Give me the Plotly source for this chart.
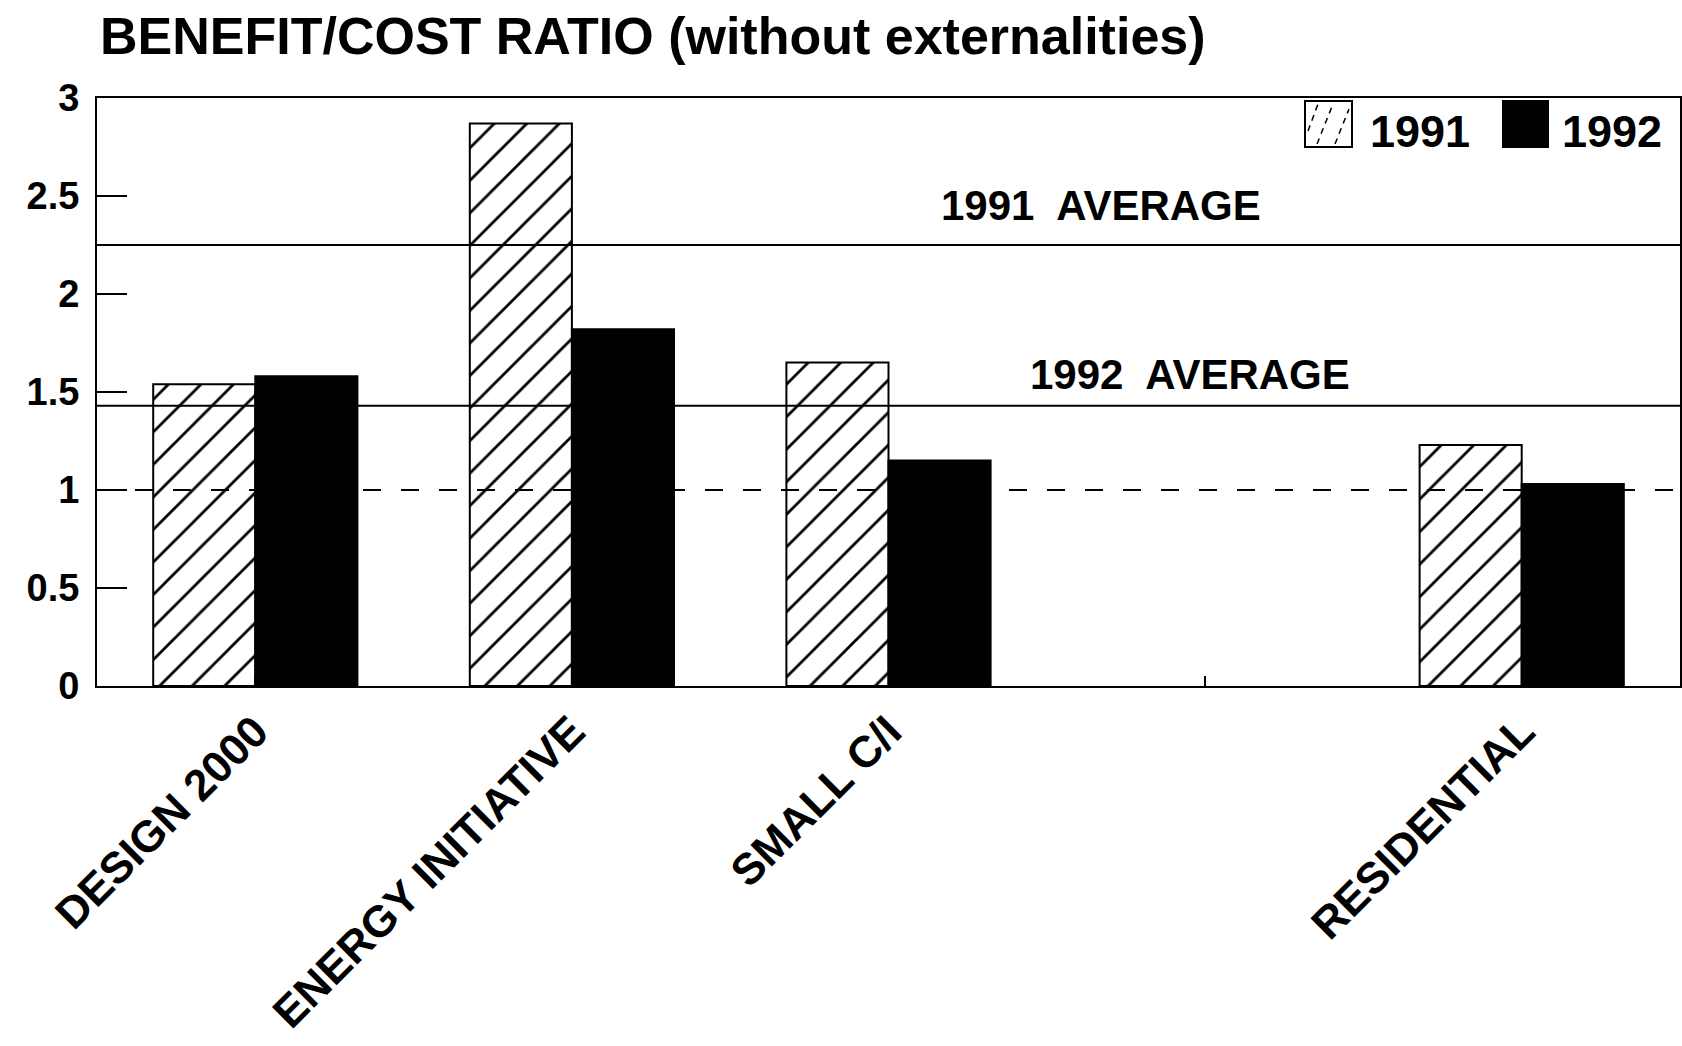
import plotly.graph_objects as go

# Benefit/cost ratios by programme (without externalities)
programs = ["DESIGN 2000", "ENERGY INITIATIVE", "SMALL C/I", "RESIDENTIAL"]
ratio_1991 = [1.54, 2.87, 1.65, 1.23]
ratio_1992 = [1.58, 1.82, 1.15, 1.03]
years = ["1991", "1992"]

# Reference levels
avg_1991 = 2.25
avg_1992 = 1.43
break_even = 1.0

y_ticks = [0, 0.5, 1, 1.5, 2, 2.5, 3]
y_tick_labels = ["0", "0.5", "1", "1.5", "2", "2.5", "3"]

# An empty slot separates the commercial programmes from RESIDENTIAL
SPACER = " "
axis_order = programs[:3] + [SPACER] + programs[3:]

W, H = 1682, 1046
L, R, T, B = 97, 2, 98, 360
FONT = "Liberation Sans, Arial, Helvetica, sans-serif"


def px_x(px):
    return (px - L) / (W - L - R)


def px_y(py):
    return (H - B - py) / (H - T - B)


fig = go.Figure()
fig.add_trace(go.Bar(
    x=programs, y=ratio_1991, name=years[0],
    marker=dict(color="white", line=dict(color="black", width=2),
                pattern=dict(shape="/", fgcolor="black", bgcolor="white",
                             fgopacity=1, fillmode="replace",
                             size=23, solidity=0.12)),
))
fig.add_trace(go.Bar(
    x=programs, y=ratio_1992, name=years[1],
    marker=dict(color="black", line=dict(color="black", width=2)),
))

shapes = []
# Average lines and break-even line
for level, dash in [(avg_1991, "solid"), (avg_1992, "solid"), (break_even, "18px,20px")]:
    shapes.append(dict(type="line", xref="paper", yref="y", x0=0, x1=1,
                       y0=level, y1=level, layer="above",
                       line=dict(color="black", width=2, dash=dash)))

# Legend swatches
box_top, box_bot = px_y(101), px_y(147)
shapes.append(dict(type="rect", xref="paper", yref="paper",
                   x0=px_x(1305), x1=px_x(1352), y0=box_bot, y1=box_top,
                   fillcolor="white", line=dict(color="black", width=2)))
for (xa, ya, xb, yb) in [(1308, 131, 1318, 104), (1317, 144, 1333, 104), (1335, 144, 1349, 109)]:
    shapes.append(dict(type="line", xref="paper", yref="paper",
                       x0=px_x(xa), y0=px_y(ya), x1=px_x(xb), y1=px_y(yb),
                       line=dict(color="black", width=1.5, dash="6px,5px")))
shapes.append(dict(type="rect", xref="paper", yref="paper",
                   x0=px_x(1503), x1=px_x(1548), y0=box_bot, y1=box_top,
                   fillcolor="black", line=dict(color="black", width=2)))

annotations = [
    dict(text="BENEFIT/COST RATIO (without externalities)", xref="paper", yref="paper",
         x=px_x(98), y=px_y(36), xanchor="left", yanchor="middle", showarrow=False,
         font=dict(family=FONT, size=52, color="black", weight="bold")),
    dict(text="1991  AVERAGE", xref="paper", yref="y", x=px_x(1101), y=2.45,
         xanchor="center", yanchor="middle", showarrow=False,
         font=dict(family=FONT, size=42, color="black", weight="bold")),
    dict(text="1992  AVERAGE", xref="paper", yref="y", x=px_x(1190), y=1.59,
         xanchor="center", yanchor="middle", showarrow=False,
         font=dict(family=FONT, size=42, color="black", weight="bold")),
    dict(text=years[0], xref="paper", yref="paper", x=px_x(1368), y=px_y(131),
         xanchor="left", yanchor="middle", showarrow=False,
         font=dict(family=FONT, size=45, color="black", weight="bold")),
    dict(text=years[1], xref="paper", yref="paper", x=px_x(1560), y=px_y(131),
         xanchor="left", yanchor="middle", showarrow=False,
         font=dict(family=FONT, size=45, color="black", weight="bold")),
]

fig.update_layout(
    width=W, height=H,
    margin=dict(l=L, r=R, t=T, b=B, pad=0),
    paper_bgcolor="white", plot_bgcolor="white",
    barmode="group", bargap=0.355, bargroupgap=0,
    showlegend=False,
    shapes=shapes, annotations=annotations,
    xaxis=dict(type="category", categoryorder="array", categoryarray=axis_order,
               range=[-0.5, len(axis_order) - 0.5],
               showline=True, mirror=True, linecolor="black", linewidth=2,
               ticks="inside", ticklen=10, tickwidth=1.5, tickcolor="black",
               tickangle=-45, showgrid=False, automargin=False,
               tickfont=dict(family=FONT, size=44, color="black", weight="bold")),
    yaxis=dict(range=[0, 3], tickvals=y_ticks, ticktext=y_tick_labels,
               showline=True, mirror=True, linecolor="black", linewidth=2,
               ticks="inside", ticklen=30, tickwidth=2, tickcolor="black",
               showgrid=False, zeroline=False, automargin=False,
               ticklabelstandoff=8,
               tickfont=dict(family=FONT, size=38, color="black", weight="bold")),
)

fig.write_html("out.html")
